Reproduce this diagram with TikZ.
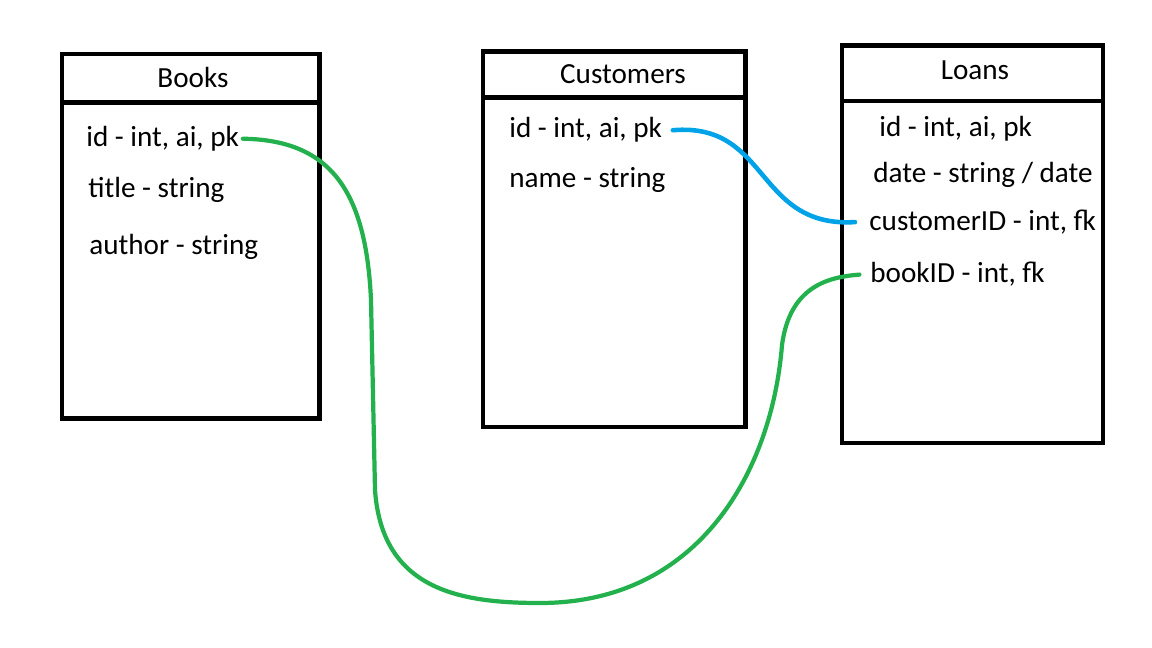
\documentclass[tikz,border=0pt]{standalone}
\usepackage{fontspec}
\setmainfont{Carlito}
\usepackage{xcolor}
\usepackage{tikz}
\usetikzlibrary{positioning,calc}

\definecolor{linkgreen}{HTML}{22B14C}
\definecolor{linkblue}{HTML}{00A2E8}

\begin{document}
\begin{tikzpicture}[
    x=0.02cm, y=-0.02cm,
    tbox/.style={rectangle, draw, line width=2.65pt, anchor=north west, inner sep=0pt, outer sep=0pt},
    title/.style={anchor=base, inner sep=0pt, font=\fontsize{16.6}{20}\selectfont},
    field/.style={anchor=base west, inner sep=0pt, font=\fontsize{16.6}{20}\selectfont},
    greenlink/.style={draw=linkgreen, line width=2.4pt, line cap=round},
    bluelink/.style={draw=linkblue, line width=2.6pt, line cap=round}
]
\useasboundingbox (0,0) rectangle (1152,648);

% Books table
\node[tbox, minimum width=5.15cm, minimum height=0.97cm] (bookshead) at (62,54) {};
\node[tbox, minimum width=5.15cm, minimum height=6.32cm] (books) at (bookshead.south west) {};
\node[title] (bookstitle) at (193,88) {Books};
\node[field] (bkid) at (86,146.5) {id - int, ai, pk};
\node[field] (bktitle) at (88,198) {title - string};
\node[field] (bkauthor) at (89,254.5) {author - string};

% Customers table
\node[tbox, minimum width=5.25cm, minimum height=0.92cm] (custhead) at (483,51.7) {};
\node[tbox, minimum width=5.25cm, minimum height=6.59cm] (customers) at (custhead.south west) {};
\node[title] (custtitle) at (623,84) {Customers};
\node[field] (cid) at (509,138) {id - int, ai, pk};
\node[field] (cname) at (509,188) {name - string};

% Loans table
\node[tbox, minimum width=5.22cm, minimum height=1.11cm] (loanshead) at (842,45.5) {};
\node[tbox, minimum width=5.22cm, minimum height=6.84cm] (loans) at (loanshead.south west) {};
\node[title] (loanstitle) at (975,80) {Loans};
\node[field] (lid) at (879,136.5) {id - int, ai, pk};
\node[field] (ldate) at (873,183) {date - string / date};
\node[field] (lcust) at (869,230.5) {customerID - int, fk};
\node[field] (lbook) at (870,283) {bookID - int, fk};

% Links
\draw[bluelink] ([xshift=6pt]cid.east) .. controls (770,122) and (755,228) .. ([xshift=-8pt]lcust.west);
\draw[greenlink] ([xshift=2pt]bkid.east) .. controls (330,140) and (366,190) .. (371,300)
    -- (375,490) .. controls (382,590) and (460,603) .. (540,603)
    .. controls (700,603) and (772,470) .. (782,345)
    .. controls (790,285) and (830,277) .. ([xshift=-6pt]lbook.west);

\end{tikzpicture}
\end{document}
